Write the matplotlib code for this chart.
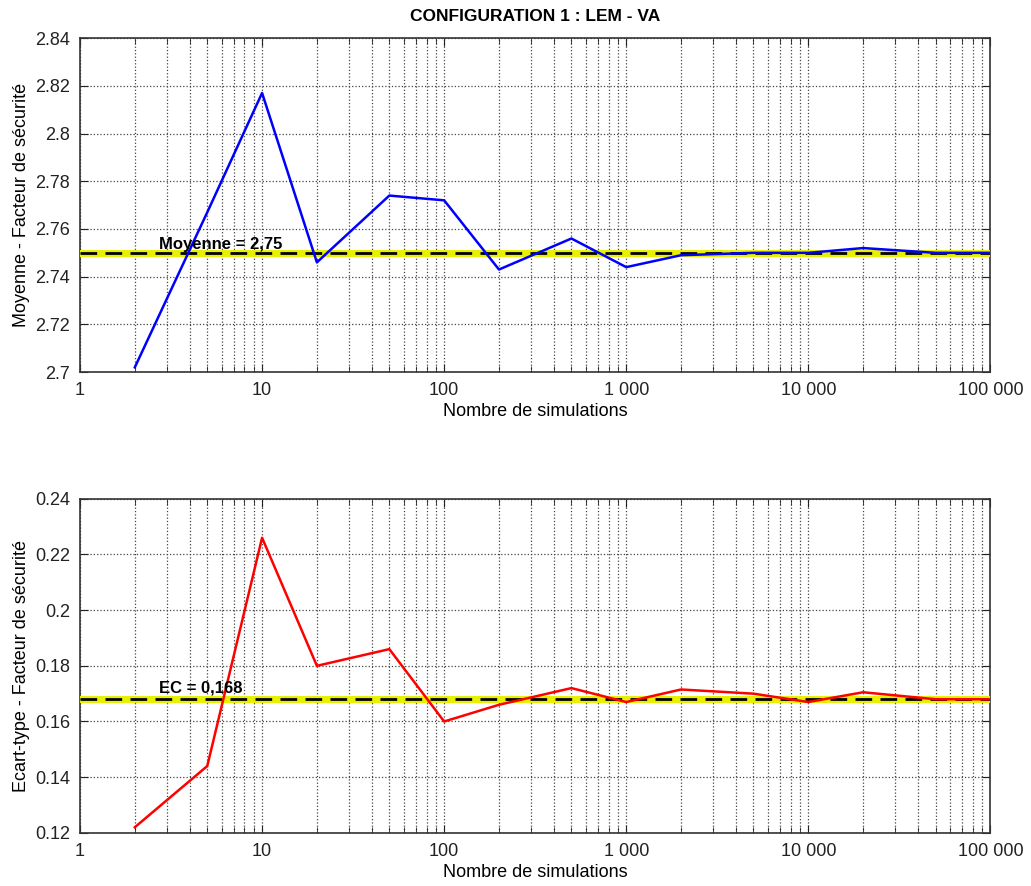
import matplotlib
matplotlib.use("Agg")
import matplotlib.pyplot as plt
from matplotlib.ticker import FixedLocator, FixedFormatter, LogLocator, NullFormatter

plt.rcParams['font.family'] = ['Liberation Sans', 'DejaVu Sans']

n_sim = [2, 5, 10, 20, 50, 100, 200, 500, 1000, 2000, 5000, 10000, 20000, 50000, 100000]
moyenne = [2.702, 2.767, 2.817, 2.746, 2.774, 2.772, 2.743, 2.756, 2.744, 2.749, 2.750, 2.750, 2.752, 2.750, 2.750]
ecart = [0.122, 0.144, 0.226, 0.180, 0.186, 0.160, 0.166, 0.172, 0.167, 0.1715, 0.170, 0.167, 0.1705, 0.168, 0.168]
mean_ref = 2.75
ec_ref = 0.168
xtick_vals = [1, 10, 100, 1000, 10000, 100000]
xtick_labels = ["1", "10", "100", "1 000", "10 000", "100 000"]
y1_ticks = [2.7, 2.72, 2.74, 2.76, 2.78, 2.8, 2.82, 2.84]
y1_labels = ["2.7", "2.72", "2.74", "2.76", "2.78", "2.8", "2.82", "2.84"]
y2_ticks = [0.12, 0.14, 0.16, 0.18, 0.2, 0.22, 0.24]
y2_labels = ["0.12", "0.14", "0.16", "0.18", "0.2", "0.22", "0.24"]

fig = plt.figure(figsize=(10.31, 8.86), dpi=100)
ax1 = fig.add_axes([0.0776, 0.580, 0.883, 0.377])
ax2 = fig.add_axes([0.0776, 0.060, 0.883, 0.377])

def style(ax, yt, yl, ylabel):
    ax.set_xscale('log')
    ax.set_xlim(1, 100000)
    ax.xaxis.set_major_locator(FixedLocator(xtick_vals))
    ax.xaxis.set_major_formatter(FixedFormatter(xtick_labels))
    ax.xaxis.set_minor_locator(LogLocator(base=10, subs=range(2, 10), numticks=20))
    ax.xaxis.set_minor_formatter(NullFormatter())
    ax.set_yticks(yt)
    ax.set_yticklabels(yl)
    ax.set_ylim(yt[0], yt[-1])
    ax.tick_params(which='both', direction='in', top=True, right=True, labelsize=13, colors='#222222')
    ax.tick_params(axis='x', which='major', pad=7)
    ax.tick_params(axis='y', which='major', pad=7)
    ax.tick_params(which='major', length=6)
    ax.tick_params(which='minor', length=4)
    ax.grid(True, which='major', axis='both', linestyle=':', color='#444444', linewidth=0.9)
    ax.grid(True, which='minor', axis='x', linestyle=':', color='#444444', linewidth=0.9)
    for s in ax.spines.values():
        s.set_color('#333333')
        s.set_linewidth(1.2)
    ax.set_xlabel("Nombre de simulations", fontsize=13, labelpad=3)
    ax.set_ylabel(ylabel, fontsize=13, labelpad=4)

style(ax1, y1_ticks, y1_labels, "Moyenne - Facteur de sécurité")
style(ax2, y2_ticks, y2_labels, "Ecart-type - Facteur de sécurité")

ax1.axhline(mean_ref, color='#e8f000', linewidth=5, zorder=3)
ax1.axhline(mean_ref, color='black', linewidth=2, linestyle=(0, (6, 3)), zorder=4)
ax1.plot(n_sim, moyenne, color='#0000ff', linewidth=1.8, zorder=5)
ax1.text(2.7, mean_ref + 0.0015, "Moyenne = 2,75", fontsize=12, fontweight='bold', zorder=6)
ax1.set_title("CONFIGURATION 1 : LEM - VA", fontsize=12.5, fontweight='bold', pad=12)

ax2.axhline(ec_ref, color='#e8f000', linewidth=5, zorder=3)
ax2.axhline(ec_ref, color='black', linewidth=2, linestyle=(0, (6, 3)), zorder=4)
ax2.plot(n_sim, ecart, color='#ff0000', linewidth=1.8, zorder=5)
ax2.text(2.7, ec_ref + 0.0025, "EC = 0,168", fontsize=12, fontweight='bold', zorder=6)

fig.savefig("out.png", dpi=100)
